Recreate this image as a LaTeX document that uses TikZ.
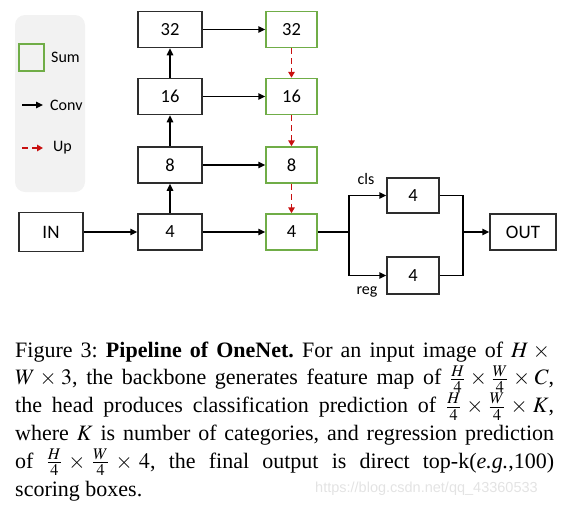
\documentclass[tikz,border=0pt]{standalone}
\usepackage{mathptmx}
\usepackage{fontspec}
\setmainfont{Liberation Serif}
\newfontfamily\calibri{Carlito}
\newfontfamily\wmfont{Liberation Sans}
\usetikzlibrary{arrows.meta,positioning}
\definecolor{sumgreen}{RGB}{112,173,71}
\definecolor{upred}{RGB}{200,16,16}
\definecolor{boxline}{RGB}{45,45,45}
\definecolor{legendbg}{RGB}{242,242,242}
\tikzset{
  >={Triangle[length=7pt,width=6.5pt]},
  conv box/.style={draw=boxline,line width=1.5pt,minimum width=64pt,minimum height=36pt,
    inner sep=0pt,font=\calibri\fontsize{18.5}{18.5}\selectfont},
  sum box/.style={conv box,draw=sumgreen,minimum width=51pt},
  conv/.style={->,line width=1.5pt,draw=black},
  up/.style={-{Triangle[length=6pt,width=6.5pt]},line width=1.6pt,draw=upred,dash pattern=on 6pt off 4pt},
  lbl/.style={font=\calibri\fontsize{16}{16}\selectfont,inner sep=0pt},
}

\begin{document}
\begin{tikzpicture}[x=1pt,y=-1pt]
  \useasboundingbox (0,0) rectangle (567,504);
  % legend
  \fill[legendbg,rounded corners=10pt] (15,15) rectangle (85,192);
  \node[sum box,minimum width=25pt,minimum height=27pt] (key sum) at (31.5,57.5) {};
  \node[lbl,anchor=west] (sum lbl) at (51,57) {Sum};
  \coordinate (conv a) at (22,105);
  \coordinate (conv b) at (43,105);
  \draw[conv] (conv a) -- (conv b);
  \node[lbl,anchor=west] (conv lbl) at (50,105) {Conv};
  \coordinate (up a) at (22,148);
  \coordinate (up b) at (43,148);
  \draw[up] (up a) -- (up b);
  \node[lbl,anchor=west] (up lbl) at (53,148) {Up};

  % backbone and sum column
  \foreach \n/\y in {4/232,8/165,16/96.5,32/29.5}{
    \node[conv box] (c\n) at (170,\y) {\n};
    \node[sum box] (s\n) at (291.5,\y) {\n};
    \draw[conv] (c\n) -- (s\n);
  }
  \foreach \a/\b in {4/8,8/16,16/32} \draw[conv] (c\a) -- (c\b);
  \foreach \a/\b in {32/16,16/8,8/4} \draw[up] (s\a) -- (s\b);
  \node[conv box,minimum height=39pt,font=\calibri\fontsize{19}{19}\selectfont] (in) at (51,232) {IN};
  \draw[conv] (in) -- (c4);

  % head
  \node[conv box,minimum width=52pt,minimum height=35pt] (cls) at (413,195.5) {4};
  \node[conv box,minimum width=52pt,minimum height=37pt] (reg) at (413,275.5) {4};
  \node[conv box,minimum width=66pt,font=\calibri\fontsize{19}{19}\selectfont] (out) at (523,232) {OUT};
  \coordinate (split) at (349,232);
  \coordinate (merge) at (463,232);
  \draw[line width=1.5pt] (s4) -- (split);
  \draw[conv] (split) |- (cls);
  \draw[conv] (split) |- (reg);
  \draw[line width=1.5pt] (cls) -| (merge) |- (reg);
  \draw[conv] (merge) -- (out);
  \node[lbl] (cls lbl) at (366,179) {cls};
  \node[lbl] (reg lbl) at (367,292) {reg};

  % caption
  \node[anchor=base west,inner sep=0pt] (cap) at (15,357) {\parbox[t]{539pt}{%
    \fontsize{22}{27.8}\selectfont\lineskiplimit=-100pt\frenchspacing
    Figure 3: \textbf{Pipeline of OneNet.} For an input image of $H\times{}$\linebreak
    $W\times3$, the backbone generates feature map of $\frac{H}{4}\times\frac{W}{4}\times C$,\linebreak
    the head produces classification prediction of $\frac{H}{4}\times\frac{W}{4}\times K$,\linebreak
    where $K$ is number of categories, and regression prediction\linebreak
    of $\frac{H}{4}\times\frac{W}{4}\times 4$, the final output is direct top-k(\textit{e.g.},100)\linebreak
    scoring boxes.}};
  \node[anchor=base west,inner sep=0pt,text=gray!22,font=\wmfont\fontsize{14.5}{14.5}\selectfont] (mark) at (315,492) {https://blog.csdn.net/qq\_43360533};
\end{tikzpicture}
\end{document}
